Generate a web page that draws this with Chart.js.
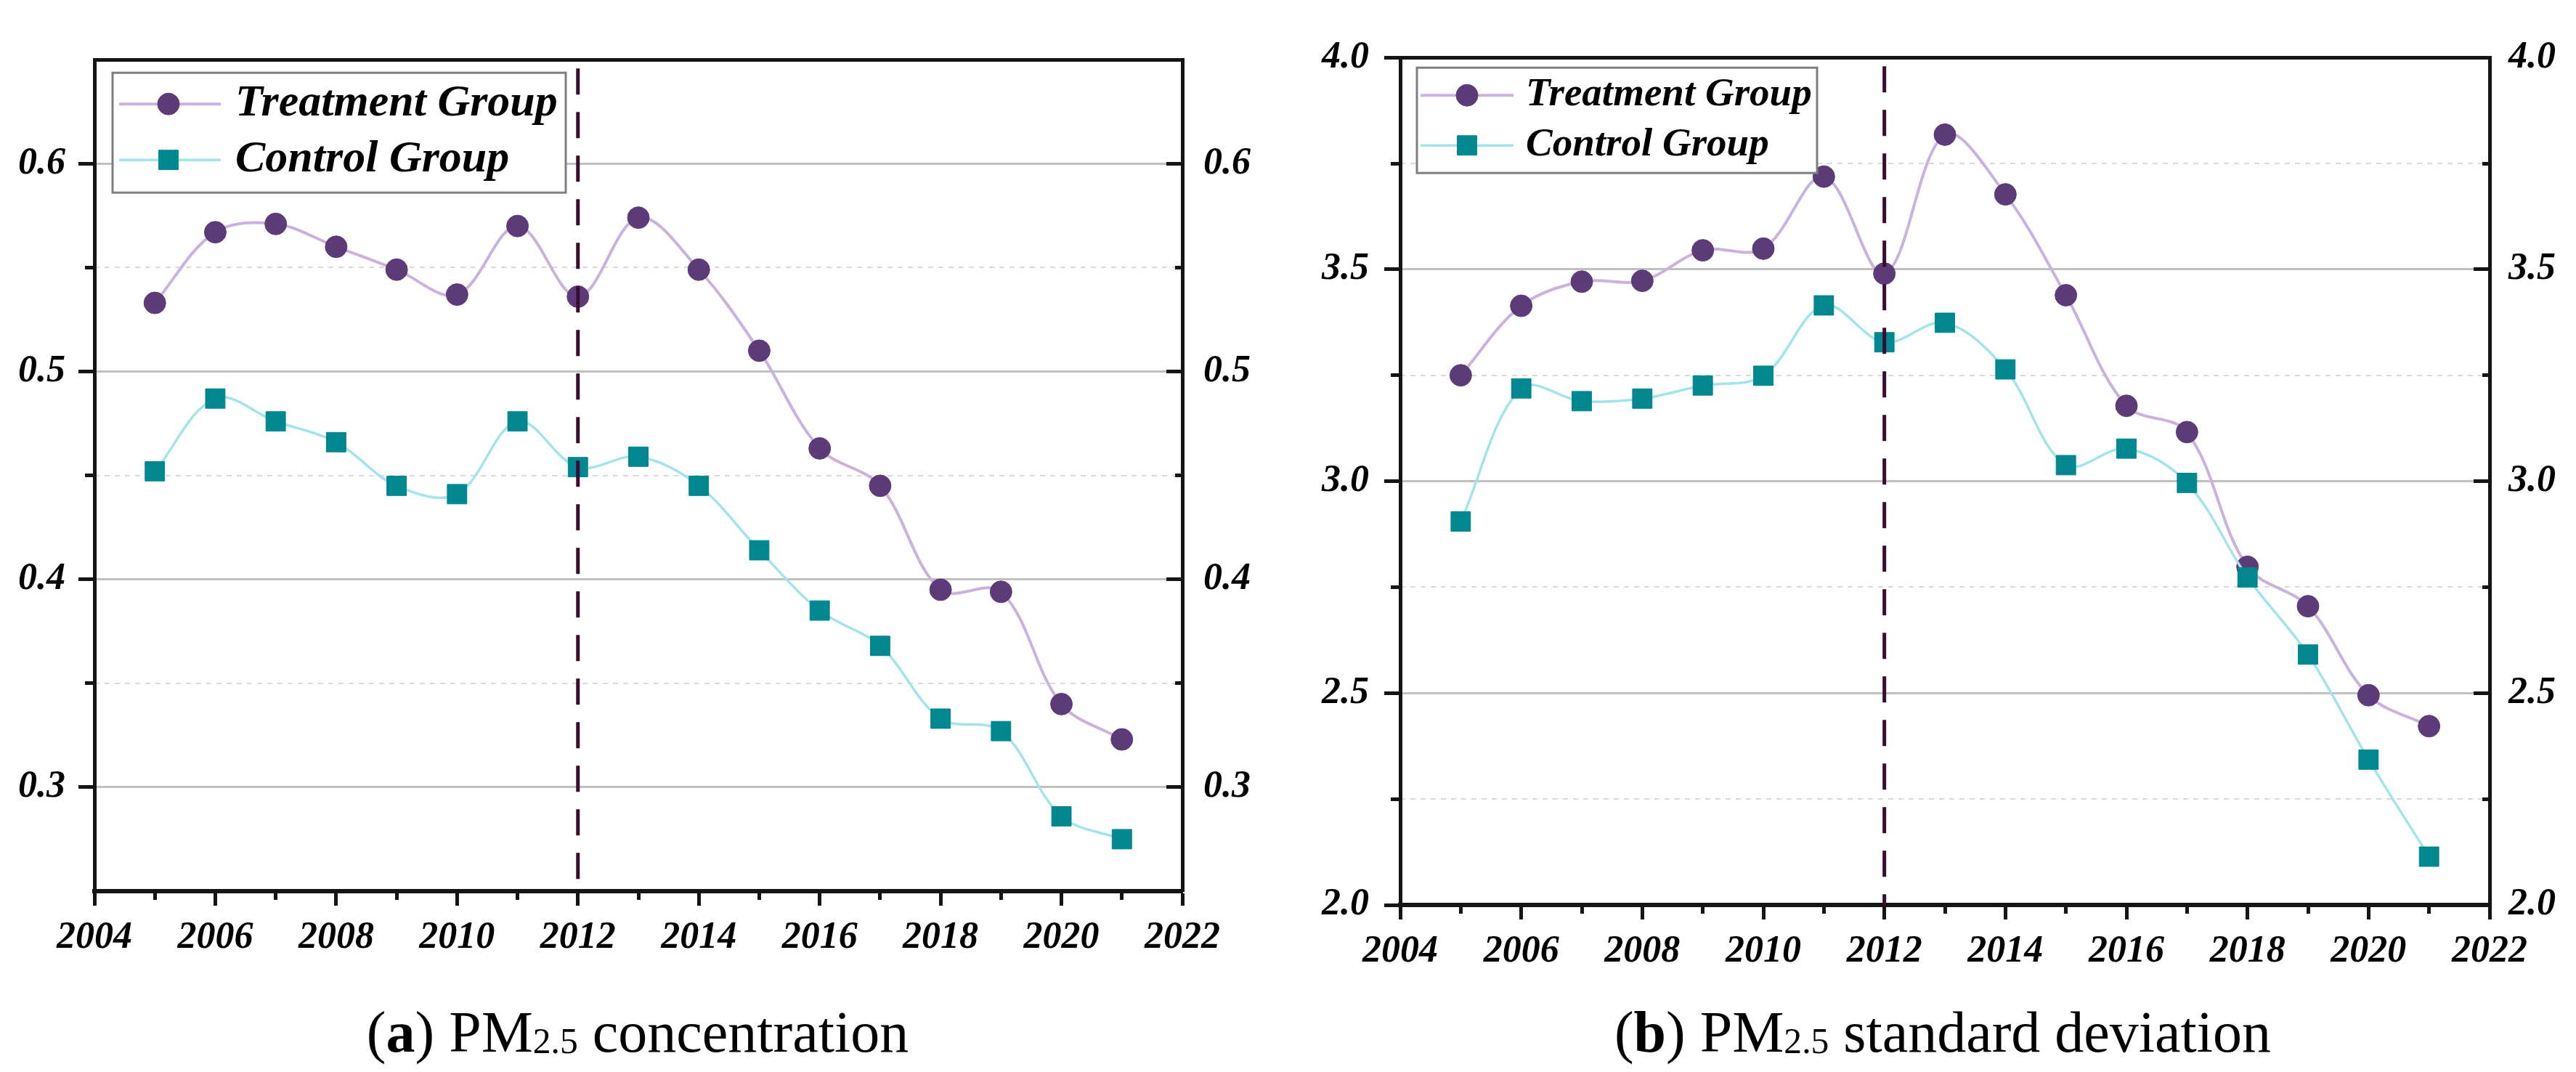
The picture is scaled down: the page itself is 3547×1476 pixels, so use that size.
<!DOCTYPE html>
<html>
<head>
<meta charset="utf-8">
<title>PM2.5 treatment vs control</title>
<script src="https://cdn.jsdelivr.net/npm/chart.js@4.4.0/dist/chart.umd.min.js"></script>
<style>
  html, body { margin: 0; padding: 0; background: #fff; }
  body { width: 3547px; height: 1476px; position: relative; overflow: hidden; }
  .panel { position: absolute; top: 0; height: 1340px; }
  #panelA { left: 0; width: 1780px; }
  #panelB { left: 1780px; width: 1767px; }
  .caption {
    position: absolute; top: 1381px;
    font-family: "Liberation Serif", "Times New Roman", serif;
    font-size: 80px; line-height: 1; white-space: nowrap;
    transform: translateX(-50%); color: #000;
  }
  .caption .sub { font-size: 0.62em; position: relative; top: 0.04em; }
</style>
</head>
<body>
<div class="panel" id="panelA"><canvas id="chartA" width="1780" height="1340"></canvas></div>
<div class="panel" id="panelB"><canvas id="chartB" width="1767" height="1340"></canvas></div>
<div class="caption" style="left:878px">(<b>a</b>) PM<span class="sub">2.5</span> concentration</div>
<div class="caption" style="left:2675px">(<b>b</b>) PM<span class="sub">2.5</span> standard deviation</div>

<script>
// data
const years = [2005, 2006, 2007, 2008, 2009, 2010, 2011, 2012, 2013, 2014, 2015, 2016, 2017, 2018, 2019, 2020, 2021];
const seriesLabels = ['Treatment Group', 'Control Group'];

// (a) PM2.5 concentration
const concTreatment = [0.533, 0.567, 0.571, 0.560, 0.549, 0.537, 0.570, 0.536, 0.574, 0.549, 0.510, 0.463, 0.445, 0.395, 0.394, 0.340, 0.323];
const concControl = [0.452, 0.487, 0.476, 0.466, 0.445, 0.441, 0.476, 0.454, 0.459, 0.445, 0.414, 0.385, 0.368, 0.333, 0.327, 0.286, 0.275];

// (b) PM2.5 standard deviation
const sdTreatment = [3.250, 3.414, 3.471, 3.473, 3.545, 3.549, 3.719, 3.490, 3.818, 3.677, 3.439, 3.178, 3.116, 2.798, 2.705, 2.495, 2.422];
const sdControl = [2.905, 3.219, 3.189, 3.195, 3.226, 3.249, 3.415, 3.328, 3.374, 3.264, 3.038, 3.077, 2.996, 2.773, 2.591, 2.343, 2.114];

// ticks
const xMajorTicks = [2004, 2006, 2008, 2010, 2012, 2014, 2016, 2018, 2020, 2022];
const xMinorTicks = [2005, 2007, 2009, 2011, 2013, 2015, 2017, 2019, 2021];
const concMajorTicks = [0.3, 0.4, 0.5, 0.6];
const concMinorTicks = [0.35, 0.45, 0.55];
const sdMajorTicks = [2.0, 2.5, 3.0, 3.5, 4.0];
const sdMinorTicks = [2.25, 2.75, 3.25, 3.75];

const policyYear = 2012;

const FONT = '"Liberation Serif", "Times New Roman", serif';
const colors = {
  treatPoint: '#5c3b78',
  treatLine: '#cab1de',
  ctrlPoint: '#00878f',
  ctrlLine: '#a2e4ea',
  policy: '#3b0b30',
  grid: '#c0c0c0',
  gridMinor: '#d9d9d9',
  axis: '#151515'
};

function isIn(list, v) {
  return list.some(t => Math.abs(t - v) < 1e-6);
}

// legend with line sample + marker, drawn in a white box
const legendBox = {
  id: 'legendBox',
  afterDatasetsDraw(chart, args, o) {
    const { ctx, chartArea } = chart;
    const bx = chartArea.left + o.dx;
    const by = chartArea.top + o.dy;
    ctx.save();
    ctx.fillStyle = '#ffffff';
    ctx.fillRect(bx, by, o.w, o.h);
    ctx.lineWidth = 3;
    ctx.strokeStyle = '#7f7f7f';
    ctx.strokeRect(bx, by, o.w, o.h);
    ctx.font = 'italic bold ' + o.fontSize + 'px ' + FONT;
    ctx.textBaseline = 'middle';
    ctx.textAlign = 'left';
    chart.data.datasets.filter(ds => ds.label).forEach((ds, i) => {
      const cy = by + o.rows[i];
      ctx.strokeStyle = ds.borderColor;
      ctx.lineWidth = ds.borderWidth;
      ctx.beginPath();
      ctx.moveTo(bx + o.lineFrom, cy);
      ctx.lineTo(bx + o.lineTo, cy);
      ctx.stroke();
      ctx.fillStyle = ds.pointBackgroundColor;
      ctx.strokeStyle = ds.pointBorderColor;
      ctx.lineWidth = ds.pointBorderWidth;
      Chart.helpers.drawPoint(ctx, {
        pointStyle: ds.pointStyle, radius: ds.pointRadius,
        borderWidth: ds.pointBorderWidth, rotation: 0
      }, bx + o.marker, cy);
      ctx.fillStyle = '#000';
      ctx.fillText(ds.label, bx + o.textX, cy);
    });
    ctx.restore();
  }
};

function buildPanel(canvasId, p) {
  const toPoints = vals => years.map((yr, i) => ({ x: yr, y: vals[i] }));
  const tickFont = { family: FONT, size: 52, weight: 'bold', style: 'italic' };
  const yAll = p.yMajor.concat(p.yMinor).sort((a, b) => a - b);
  const xAll = xMajorTicks.concat(xMinorTicks).sort((a, b) => a - b);
  const setTicks = list => scale => { scale.ticks = list.map(v => ({ value: v })); };
  const yLabel = v => isIn(p.yMajor, v) ? v.toFixed(1) : '';
  const yMajorAt = c => c.tick && isIn(p.yMajor, c.tick.value);

  return new Chart(document.getElementById(canvasId), {
    type: 'line',
    data: {
      datasets: [
        {
          label: seriesLabels[0],
          data: toPoints(p.treatment),
          borderColor: colors.treatLine,
          borderWidth: 4,
          pointStyle: 'circle',
          pointRadius: 15,
          pointBackgroundColor: colors.treatPoint,
          pointBorderColor: colors.treatPoint,
          pointBorderWidth: 1,
          tension: 0.35,
          order: 2
        },
        {
          label: seriesLabels[1],
          data: toPoints(p.control),
          borderColor: colors.ctrlLine,
          borderWidth: 3.5,
          pointStyle: 'rect',
          pointRadius: 19,
          pointBackgroundColor: colors.ctrlPoint,
          pointBorderColor: colors.ctrlPoint,
          pointBorderWidth: 1,
          tension: 0.35,
          order: 1
        },
        {
          // policy year marker
          label: '',
          data: [{ x: policyYear, y: p.yMax }, { x: policyYear, y: p.yMin }],
          borderColor: colors.policy,
          borderWidth: 5,
          borderDash: [36, 24],
          borderDashOffset: 48,
          pointRadius: 0,
          tension: 0,
          order: 0
        }
      ]
    },
    options: {
      responsive: false,
      animation: false,
      devicePixelRatio: 1,
      layout: { padding: { top: p.top, left: 0, right: 0, bottom: 0 } },
      plugins: {
        legend: { display: false },
        tooltip: { enabled: false },
        legendBox: p.legend
      },
      scales: {
        x: {
          type: 'linear',
          position: 'bottom',
          min: 2004,
          max: 2022,
          afterBuildTicks: setTicks(xAll),
          afterFit: s => { s.height = p.xHeight; },
          ticks: {
            font: tickFont, color: '#000', padding: 13,
            autoSkip: false, maxRotation: 0,
            callback: v => isIn(xMajorTicks, v) ? String(v) : ''
          },
          grid: {
            drawOnChartArea: false,
            tickLength: 20,
            tickWidth: 5,
            tickColor: colors.axis,
            tickBorderDash: c => (c.tick && isIn(xMajorTicks, c.tick.value)) ? [] : [9, 100]
          },
          border: { color: colors.axis, width: 6 }
        },
        xTop: {
          type: 'linear',
          position: 'top',
          min: 2004,
          max: 2022,
          afterFit: s => { s.height = 0; },
          ticks: { display: false },
          grid: { drawOnChartArea: false, drawTicks: false },
          border: { color: colors.axis, width: 5 }
        },
        y: {
          type: 'linear',
          position: 'left',
          min: p.yMin,
          max: p.yMax,
          afterBuildTicks: setTicks(yAll),
          afterFit: s => { s.width = p.leftWidth; },
          ticks: { font: tickFont, color: '#000', padding: p.leftPad, callback: yLabel },
          grid: {
            color: c => yMajorAt(c) ? colors.grid : 'rgba(0,0,0,0)',
            lineWidth: 3,
            tickLength: 22,
            tickWidth: 5,
            tickColor: colors.axis,
            tickBorderDash: c => yMajorAt(c) ? [] : [11, 9],
            tickBorderDashOffset: c => yMajorAt(c) ? 0 : 11
          },
          border: { color: colors.axis, width: 5 }
        },
        yMinor: {
          type: 'linear',
          position: 'left',
          min: p.yMin,
          max: p.yMax,
          afterBuildTicks: setTicks(p.yMinor),
          afterFit: s => { s.width = 0; },
          ticks: { display: false },
          grid: { color: colors.gridMinor, lineWidth: 2, drawTicks: false },
          border: { display: false, dash: [7, 7] }
        },
        yRight: {
          type: 'linear',
          position: 'right',
          min: p.yMin,
          max: p.yMax,
          afterBuildTicks: setTicks(yAll),
          afterFit: s => { s.width = p.rightWidth; },
          ticks: { font: tickFont, color: '#000', padding: p.rightPad, callback: yLabel },
          grid: {
            drawOnChartArea: false,
            tickLength: -22,
            tickWidth: 5,
            tickColor: colors.axis,
            tickBorderDash: c => yMajorAt(c) ? [] : [13, 100]
          },
          border: { color: colors.axis, width: 5 }
        }
      }
    },
    plugins: [legendBox]
  });
}

buildPanel('chartA', {
  treatment: concTreatment,
  control: concControl,
  yMin: 0.25, yMax: 0.65,
  yMajor: concMajorTicks, yMinor: concMinorTicks,
  top: 19, xHeight: 113,
  leftWidth: 130, leftPad: 18,
  rightWidth: 152, rightPad: 51,
  legend: { dx: 25, dy: 18, w: 624, h: 165, rows: [43, 120], lineFrom: 9, lineTo: 149, marker: 77, textX: 169, fontSize: 62 }
});

buildPanel('chartB', {
  treatment: sdTreatment,
  control: sdControl,
  yMin: 2.0, yMax: 4.0,
  yMajor: sdMajorTicks, yMinor: sdMinorTicks,
  top: 38, xHeight: 94,
  leftWidth: 148, leftPad: 21,
  rightWidth: 119, rightPad: 48,
  legend: { dx: 23, dy: 14, w: 551, h: 145, rows: [38, 107], lineFrom: 5, lineTo: 133, marker: 69, textX: 150, fontSize: 55 }
});
</script>
</body>
</html>
